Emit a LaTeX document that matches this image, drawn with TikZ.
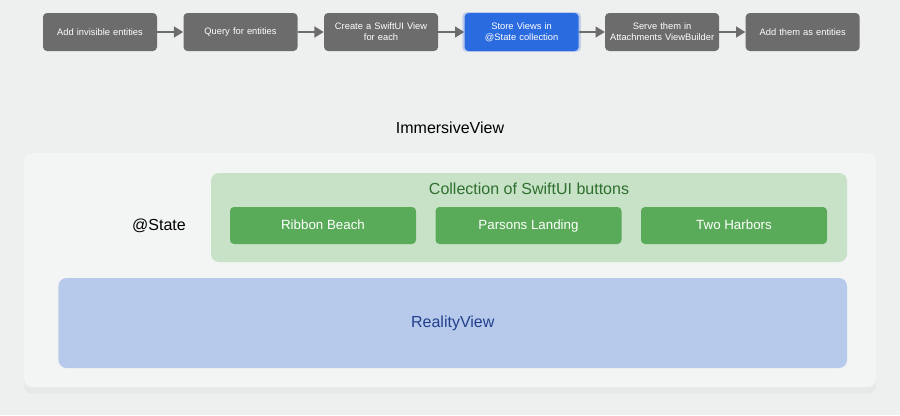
\documentclass[tikz,border=0pt]{standalone}
\usepackage{fontspec}
\setmainfont{Liberation Sans}
\usepackage{tikz}
\usetikzlibrary{
  arrows.meta,
  positioning,
  shadows
}
\definecolor{bggray}{HTML}{EEEFEF}
\definecolor{panelgray}{HTML}{F3F4F4}
\definecolor{stepgray}{HTML}{6C6C6C}
\definecolor{stepblue}{HTML}{2B6BE0}
\definecolor{statefill}{HTML}{C7E2C7}
\definecolor{buttongreen}{HTML}{59AB59}
\definecolor{statetext}{HTML}{2F6F2F}
\definecolor{realityfill}{HTML}{B8CAEC}
\definecolor{realitytext}{HTML}{213F8C}
\tikzset{
  flowbox/.style={rounded corners=3pt, fill=stepgray, text=white,
    minimum width=85.5pt, minimum height=28.5pt, text width=80pt,
    align=center, font=\fontsize{7}{8.4}\selectfont, inner sep=1pt},
  activebox/.style={flowbox, fill=stepblue,
    drop shadow={fill=stepblue, opacity=0.25, shadow xshift=0pt, shadow yshift=0pt, shadow scale=1.04}},
  btnbox/.style={rounded corners=3pt, fill=buttongreen, text=white,
    minimum width=139.5pt, minimum height=27.75pt,
    text height=1.5ex, text depth=0.3ex,
    font=\fontsize{10}{12}\selectfont},
  flowarr/.style={-{Triangle[length=7pt,width=8pt]}, line width=2pt, draw=stepgray},
}

\begin{document}
\begin{tikzpicture}[
  x=0.75pt, y=-0.75pt,
  node distance=19.5pt,
  bigtext/.style={font=\fontsize{12}{14}\selectfont}
]
  \useasboundingbox (0,0) rectangle (900,415);
  \fill[bggray] (0,0) rectangle (900,415);

  % Workflow
  \node[flowbox] (add) at (100,32) {Add invisible entities};
  \node[flowbox, right=of add] (query) {Query for entities};
  \node[flowbox, right=of query] (create) {Create a SwiftUI View\\for each};
  \node[activebox, right=of create] (store) {Store Views in\\@State collection};
  \node[flowbox, right=of store] (serve) {Serve them in\\Attachments ViewBuilder};
  \node[flowbox, right=of serve] (addent) {Add them as entities};
  \foreach \a/\b in {add/query, query/create, create/store, store/serve, serve/addent}
    \draw[flowarr] (\a) -- (\b);

  % ImmersiveView
  \node[bigtext] (title) at (450,128) {ImmersiveView};
  \node[fill=panelgray, rounded corners=6pt, minimum width=639pt, minimum height=175.5pt,
    drop shadow={opacity=0.06, shadow xshift=0pt, shadow yshift=-5pt}] (immersive) at (450,270) {};

  % @State collection
  \node[fill=statefill, rounded corners=6pt, minimum width=477pt, minimum height=66.75pt] (state) at (529,217.5) {};
  \node[bigtext, text=statetext] (stitle) at (529,189) {Collection of SwiftUI buttons};
  \node[bigtext] (statelbl) at (159,226) {@State};
  \node[btnbox] (ribbon) at (323,225.5) {Ribbon Beach};
  \node[btnbox] (parsons) at (528.5,225.5) {Parsons Landing};
  \node[btnbox] (harbors) at (734,225.5) {Two Harbors};

  % RealityView
  \node[fill=realityfill, rounded corners=6pt, minimum width=591.4pt, minimum height=67.5pt,
    bigtext, text=realitytext] (reality) at (452.75,323) {RealityView};
\end{tikzpicture}
\end{document}
